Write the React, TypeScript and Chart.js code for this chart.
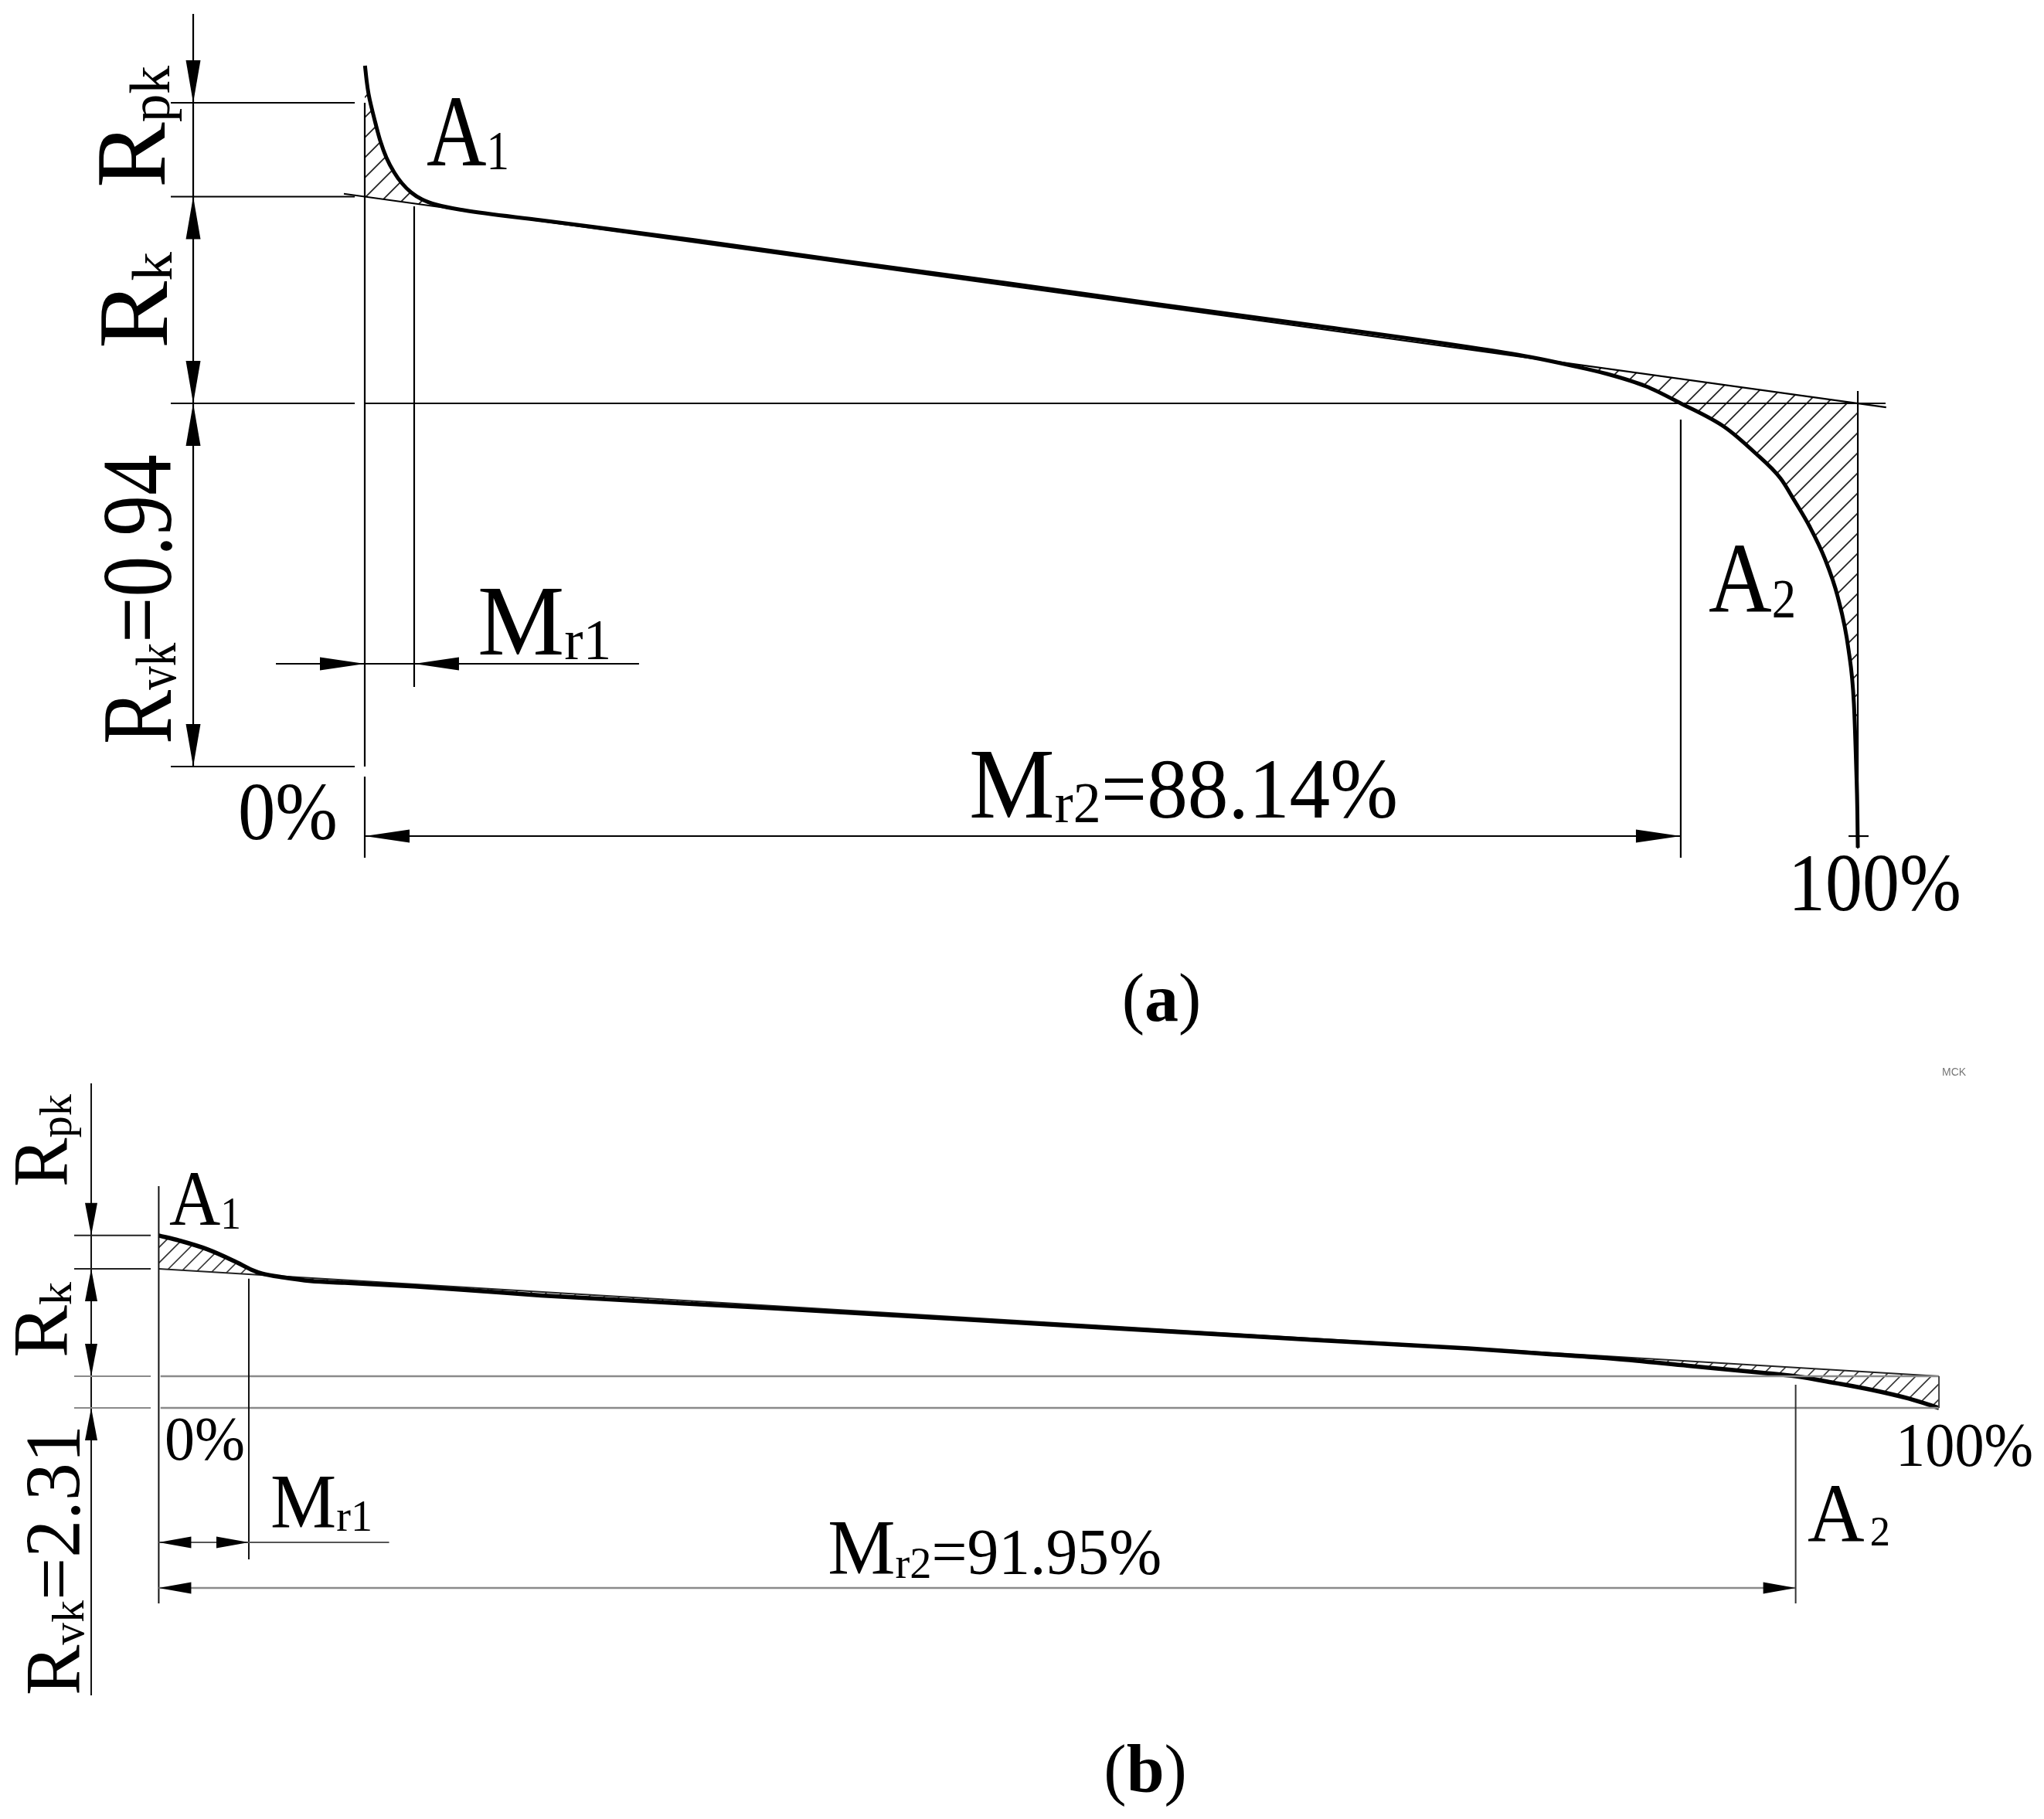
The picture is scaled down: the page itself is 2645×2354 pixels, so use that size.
import React, { useEffect, useRef } from "react";
import { Chart, registerables } from "chart.js";

Chart.register(...registerables);

// ===================== Panel (a) =====================
// Bearing-area (Abbott–Firestone) curve: material ratio Mr (%) vs height (µm), 0 = lower limit of Rk
const mrA = [0.016, 0.129, 0.259, 0.466, 0.725, 1.035, 1.449, 1.967, 2.484, 3.106, 3.83, 4.814, 6.625, 11.8, 22.15, 32.5, 42.86, 53.21, 63.56, 73.91, 78.05, 80.8, 83.23, 85.82, 88.14, 91.1, 93.06, 94.82, 95.76, 96.79, 97.77, 98.65, 99.38, 99.74, 99.9, 99.97, 100];
const hA = [0.874, 0.834, 0.8, 0.764, 0.724, 0.68, 0.636, 0.598, 0.57, 0.546, 0.528, 0.514, 0.5, 0.474, 0.422, 0.366, 0.312, 0.256, 0.202, 0.146, 0.12, 0.098, 0.076, 0.044, 0, -0.062, -0.126, -0.194, -0.252, -0.32, -0.4, -0.5, -0.638, -0.778, -0.952, -1.056, -1.15];
const secantA_mr = [-1.4, 101.9];
const secantA_h = [0.5425, -0.0102];
const RPK_TOP_A = 0.778;
const RK_TOP_A = 0.535;
const RVK_A = 0.94;
const MR1_A = 3.31;
const MR2_A = 88.14;

// ===================== Panel (b) =====================
const mrB = [0, 1.155, 2.718, 4.263, 5.235, 5.8, 6.972, 8.535, 10.445, 14.352, 18.215, 21.471, 34.494, 51.858, 64.881, 73.563, 77.687, 81.811, 85.935, 90.059, 91.95, 94.182, 96.245, 98.307, 100];
const hB = [10.265, 9.893, 9.262, 8.383, 7.752, 7.493, 7.211, 6.946, 6.817, 6.546, 6.197, 5.893, 4.958, 3.634, 2.648, 2.028, 1.645, 1.268, 0.761, 0.259, 0, -0.496, -0.997, -1.628, -2.31];
const secantB_mr = [0, 100];
const secantB_h = [7.83, 0];
const RPK_TOP_B = 10.265;
const RK_TOP_B = 7.83;
const RVK_B = 2.31;
const MR1_B = 5.06;
const MR2_B = 91.95;

// text values
const RVK_A_TEXT = "=0.94";
const MR2_A_TEXT = "=88.14%";
const RVK_B_TEXT = "=2.31";
const MR2_B_TEXT = "=91.95%";

const SERIF = '"Liberation Serif", "Times New Roman", serif';

const pts = (xs: number[], ys: number[]) => xs.map((x, i) => ({ x, y: ys[i] }));

type Run = { t: string; size: number; dy?: number; bold?: boolean };

function drawRuns(ctx: any, runs: Run[], x: number, y: number, opts: any = {}) {
  ctx.save();
  ctx.fillStyle = opts.color || "#000";
  ctx.textBaseline = "alphabetic";
  ctx.textAlign = "left";
  const fam = opts.family || SERIF;
  let natural = 0;
  const ws = runs.map((r) => {
    ctx.font = `${r.bold ? "bold " : ""}${r.size}px ${fam}`;
    const w = ctx.measureText(r.t).width;
    natural += w;
    return w;
  });
  const sx = opts.width ? opts.width / natural : 1;
  ctx.translate(x, y);
  if (opts.rotate) ctx.rotate(-Math.PI / 2);
  ctx.scale(sx, 1);
  let cx = opts.center ? -natural / 2 : 0;
  runs.forEach((r, i) => {
    ctx.font = `${r.bold ? "bold " : ""}${r.size}px ${fam}`;
    ctx.fillText(r.t, cx, r.dy || 0);
    cx += ws[i];
  });
  ctx.restore();
}

function line(ctx: any, x1: number, y1: number, x2: number, y2: number, w: number, c: string) {
  ctx.save();
  ctx.strokeStyle = c;
  ctx.lineWidth = w;
  ctx.beginPath();
  ctx.moveTo(x1, y1);
  ctx.lineTo(x2, y2);
  ctx.stroke();
  ctx.restore();
}

function arrow(ctx: any, tx: number, ty: number, ux: number, uy: number, L: number, w: number, c = "#000") {
  const bx = tx - ux * L;
  const by = ty - uy * L;
  const nx = -uy;
  const ny = ux;
  ctx.save();
  ctx.fillStyle = c;
  ctx.beginPath();
  ctx.moveTo(tx, ty);
  ctx.lineTo(bx + nx * w, by + ny * w);
  ctx.lineTo(bx - nx * w, by - ny * w);
  ctx.closePath();
  ctx.fill();
  ctx.restore();
}

function hatch(ctx: any, poly: number[][], spacing: number, w: number, c: string) {
  ctx.save();
  ctx.beginPath();
  poly.forEach(([x, y], i) => (i ? ctx.lineTo(x, y) : ctx.moveTo(x, y)));
  ctx.closePath();
  ctx.clip();
  const xs = poly.map((p) => p[0]);
  const ys = poly.map((p) => p[1]);
  const minX = Math.min(...xs), maxX = Math.max(...xs);
  const minY = Math.min(...ys), maxY = Math.max(...ys);
  ctx.strokeStyle = c;
  ctx.lineWidth = w;
  ctx.beginPath();
  const k0 = Math.floor((minX + minY) / spacing) * spacing;
  for (let k = k0; k <= maxX + maxY + spacing; k += spacing) {
    ctx.moveTo(k - maxY, maxY);
    ctx.lineTo(k - minY, minY);
  }
  ctx.stroke();
  ctx.restore();
}

const drawingPlugin = {
  id: "drawing",
  beforeDraw(chart: any) {
    const ctx = chart.ctx;
    ctx.save();
    ctx.fillStyle = "#fff";
    ctx.fillRect(0, 0, chart.width, chart.height);
    ctx.restore();
  },
  beforeDatasetsDraw(chart: any) {
    const ctx = chart.ctx;
    // ---- panel a hatches
    {
      const X = (v: number) => chart.scales.xa.getPixelForValue(v);
      const Y = (v: number) => chart.scales.ya.getPixelForValue(v);
      const sec = (m: number) => RK_TOP_A * (1 - m / 100);
      // A1
      const p1: number[][] = [[X(0), Y(hA[0])]];
      for (let i = 0; i < mrA.length && mrA[i] <= 6.625; i++) p1.push([X(mrA[i]), Y(hA[i])]);
      p1.push([X(6.625), Y(sec(6.625))]);
      p1.push([X(0), Y(RK_TOP_A)]);
      hatch(ctx, p1, 26, 1.8, "#222");
      // A2
      const p2: number[][] = [];
      const start = 80.8;
      p2.push([X(start), Y(sec(start))]);
      p2.push([X(100), Y(0)]);
      p2.push([X(100), Y(hA[hA.length - 1])]);
      for (let i = mrA.length - 1; i >= 0 && mrA[i] >= start; i--) p2.push([X(mrA[i]), Y(hA[i])]);
      hatch(ctx, p2, 26, 1.8, "#222");
    }
    // ---- panel b hatches
    {
      const X = (v: number) => chart.scales.xb.getPixelForValue(v);
      const Y = (v: number) => chart.scales.yb.getPixelForValue(v);
      const sec = (m: number) => RK_TOP_B * (1 - m / 100);
      const cross = 6.4;
      const p1: number[][] = [];
      for (let i = 0; i < mrB.length && mrB[i] <= 5.8; i++) p1.push([X(mrB[i]), Y(hB[i])]);
      p1.push([X(cross), Y(sec(cross))]);
      p1.push([X(0), Y(RK_TOP_B)]);
      hatch(ctx, p1, 20, 1.6, "#333");
      const p2: number[][] = [];
      p2.push([X(cross), Y(sec(cross))]);
      p2.push([X(100), Y(0)]);
      p2.push([X(100), Y(-RVK_B)]);
      for (let i = mrB.length - 1; i >= 0 && mrB[i] > cross; i--) p2.push([X(mrB[i]), Y(hB[i])]);
      hatch(ctx, p2, 20, 1.6, "#333");
    }
  },
  afterDatasetsDraw(chart: any) {
    const ctx = chart.ctx;
    // ================= panel a =================
    {
      const X = (v: number) => chart.scales.xa.getPixelForValue(v);
      const Y = (v: number) => chart.scales.ya.getPixelForValue(v);
      const K = "#000";
      const lw = 2.2;
      const dimX = X(-11.49);
      line(ctx, dimX, Y(1.008), dimX, Y(-RVK_A), lw, K);
      for (const h of [RPK_TOP_A, RK_TOP_A, 0, -RVK_A]) line(ctx, X(-12.99), Y(h), X(-0.67), Y(h), lw, K);
      const La = 55, Wa = 9.5;
      arrow(ctx, dimX, Y(RPK_TOP_A), 0, 1, La, Wa);
      arrow(ctx, dimX, Y(RK_TOP_A), 0, -1, La, Wa);
      arrow(ctx, dimX, Y(0), 0, 1, La, Wa);
      arrow(ctx, dimX, Y(0), 0, -1, La, Wa);
      arrow(ctx, dimX, Y(-RVK_A), 0, 1, La, Wa);
      // 0% line
      line(ctx, X(0), Y(RPK_TOP_A), X(0), Y(-RVK_A), lw, K);
      line(ctx, X(0), Y(-0.966), X(0), Y(-1.176), lw, K);
      // Rk lower limit
      line(ctx, X(0), Y(0), X(101.86), Y(0), lw, K);
      // Mr1
      line(ctx, X(MR1_A), Y(0.51), X(MR1_A), Y(-0.734), lw, K);
      const ym1 = Y(-0.674);
      line(ctx, X(-5.95), ym1, X(18.37), ym1, lw, K);
      arrow(ctx, X(0), ym1, 1, 0, 58, 8.5);
      arrow(ctx, X(MR1_A), ym1, -1, 0, 58, 8.5);
      // Mr2
      const ym2 = Y(-1.12);
      line(ctx, X(0), ym2, X(MR2_A), ym2, lw, K);
      arrow(ctx, X(0), ym2, -1, 0, 58, 8.5);
      arrow(ctx, X(MR2_A), ym2, 1, 0, 58, 8.5);
      line(ctx, X(MR2_A), Y(-0.042), X(MR2_A), Y(-1.176), lw, K);
      // 100%
      line(ctx, X(100), Y(0.032), X(100), Y(-1.152), lw, K);
      line(ctx, X(99.38), ym2, X(100.72), ym2, lw, K);

      // labels
      drawRuns(ctx, [{ t: "A", size: 131 }, { t: "1", size: 72, dy: 5 }], X(4.14), Y(0.616), { width: 107 });
      drawRuns(ctx, [{ t: "R", size: 130 }, { t: "pk", size: 75, dy: 6 }], X(-13.41), Y(0.558), { width: 158, rotate: true });
      drawRuns(ctx, [{ t: "R", size: 130 }, { t: "k", size: 75, dy: 6 }], X(-13.25), Y(0.142), { width: 125, rotate: true });
      drawRuns(ctx, [{ t: "R", size: 130 }, { t: "vk", size: 75, dy: 6 }, { t: RVK_A_TEXT, size: 130 }], X(-12.99), Y(-0.882), { width: 375, rotate: true });
      drawRuns(ctx, [{ t: "M", size: 130 }, { t: "r1", size: 75, dy: 6 }], X(7.56), Y(-0.65), { width: 173 });
      drawRuns(ctx, [{ t: "0%", size: 106 }], X(-8.49), Y(-1.128), { width: 129 });
      drawRuns(ctx, [{ t: "M", size: 130 }, { t: "r2", size: 75, dy: 6 }, { t: MR2_A_TEXT, size: 110 }], X(40.48), Y(-1.072), { width: 555 });
      drawRuns(ctx, [{ t: "100%", size: 105 }], X(95.34), Y(-1.312), { width: 224 });
      drawRuns(ctx, [{ t: "A", size: 130 }, { t: "2", size: 72, dy: 7 }], X(90.01), Y(-0.54), { width: 113 });
      drawRuns(ctx, [{ t: "(", size: 88 }, { t: "a", size: 88, bold: true }, { t: ")", size: 88 }], X(53.36), Y(-1.598), { center: true });
    }
    // ================= panel b =================
    {
      const X = (v: number) => chart.scales.xb.getPixelForValue(v);
      const Y = (v: number) => chart.scales.yb.getPixelForValue(v);
      const K = "#111";
      const G = "#8a8a8a";
      const lw = 2;
      const dimX = X(-3.794);
      line(ctx, dimX, Y(21.35), dimX, Y(-23.27), lw, K);
      for (const h of [RPK_TOP_B, RK_TOP_B]) line(ctx, X(-4.749), Y(h), X(-0.451), Y(h), lw, "#222");
      for (const h of [0, -RVK_B]) line(ctx, X(-4.749), Y(h), X(-0.451), Y(h), lw, G);
      const Lb = 42, Wb = 8;
      arrow(ctx, dimX, Y(RPK_TOP_B), 0, 1, Lb, Wb);
      arrow(ctx, dimX, Y(RK_TOP_B), 0, -1, Lb, Wb);
      arrow(ctx, dimX, Y(0), 0, 1, Lb, Wb);
      arrow(ctx, dimX, Y(-RVK_B), 0, -1, Lb, Wb);
      // 0% line
      line(ctx, X(0), Y(13.86), X(0), Y(-16.56), lw, K);
      // grey reference lines
      line(ctx, X(0.1), Y(0), X(100), Y(0), 2.5, G);
      line(ctx, X(0.1), Y(-RVK_B), X(100), Y(-RVK_B), 2.5, G);
      line(ctx, X(100), Y(0), X(100), Y(-RVK_B), 2, "#444");
      // Mr1
      line(ctx, X(MR1_B), Y(7.12), X(MR1_B), Y(-13.35), lw, K);
      const ym1 = Y(-12.11);
      line(ctx, X(0), ym1, X(12.94), ym1, lw, "#555");
      arrow(ctx, X(0), ym1, -1, 0, Lb, 7.5);
      arrow(ctx, X(MR1_B), ym1, 1, 0, Lb, 7.5);
      // Mr2
      const ym2 = Y(-15.44);
      line(ctx, X(0), ym2, X(MR2_B), ym2, 2.5, G);
      arrow(ctx, X(0), ym2, -1, 0, Lb, 7.5);
      arrow(ctx, X(MR2_B), ym2, 1, 0, Lb, 7.5);
      line(ctx, X(MR2_B), Y(-0.62), X(MR2_B), Y(-16.56), lw, "#333");

      drawRuns(ctx, [{ t: "A", size: 101 }, { t: "1", size: 59, dy: 5 }], X(0.59), Y(11.04), { width: 93 });
      drawRuns(ctx, [{ t: "R", size: 101 }, { t: "pk", size: 60, dy: 5 }], X(-5.14), Y(13.8), { width: 120, rotate: true });
      drawRuns(ctx, [{ t: "R", size: 101 }, { t: "k", size: 60, dy: 5 }], X(-5.14), Y(1.352), { width: 98, rotate: true });
      drawRuns(ctx, [{ t: "R", size: 102 }, { t: "vk", size: 60, dy: 5 }, { t: RVK_B_TEXT, size: 102 }], X(-4.445), Y(-23.27), { width: 350, rotate: true });
      drawRuns(ctx, [{ t: "0%", size: 80 }], X(0.33), Y(-6.08), { width: 104 });
      drawRuns(ctx, [{ t: "M", size: 99 }, { t: "r1", size: 58, dy: 5 }], X(6.28), Y(-10.99), { width: 132 });
      drawRuns(ctx, [{ t: "M", size: 101 }, { t: "r2", size: 58, dy: 5 }, { t: MR2_B_TEXT, size: 84 }], X(37.58), Y(-14.42), { width: 432 });
      drawRuns(ctx, [{ t: "100%", size: 80 }], X(97.57), Y(-6.54), { width: 178 });
      drawRuns(ctx, [{ t: "A", size: 107 }, { t: " ", size: 30 }, { t: "2", size: 55, dy: 5 }], X(92.62), Y(-12.06), { width: 107 });
      drawRuns(ctx, [{ t: "(", size: 88 }, { t: "b", size: 88, bold: true }, { t: ")", size: 88 }], X(55.42), Y(-30.28), { center: true });
      drawRuns(ctx, [{ t: "MCK", size: 14 }], X(100.17), Y(21.92), { color: "#777", family: '"Liberation Sans", sans-serif' });
    }
  },
};

export default function App() {
  const ref = useRef<HTMLCanvasElement | null>(null);
  useEffect(() => {
    if (!ref.current) return;
    const chart = new Chart(ref.current, {
      type: "scatter",
      data: {
        datasets: [
          {
            label: "Curve (a)",
            data: pts(mrA, hA),
            xAxisID: "xa",
            yAxisID: "ya",
            showLine: true,
            borderColor: "#000",
            borderWidth: 5,
            pointRadius: 0,
            cubicInterpolationMode: "monotone",
            fill: false,
          },
          {
            label: "Secant (a)",
            data: pts(secantA_mr, secantA_h),
            xAxisID: "xa",
            yAxisID: "ya",
            showLine: true,
            borderColor: "#000",
            borderWidth: 2.2,
            pointRadius: 0,
          },
          {
            label: "Curve (b)",
            data: pts(mrB, hB),
            xAxisID: "xb",
            yAxisID: "yb",
            showLine: true,
            borderColor: "#000",
            borderWidth: 5.5,
            pointRadius: 0,
            cubicInterpolationMode: "monotone",
            fill: false,
          },
          {
            label: "Secant (b)",
            data: pts(secantB_mr, secantB_h),
            xAxisID: "xb",
            yAxisID: "yb",
            showLine: true,
            borderColor: "#222",
            borderWidth: 2,
            pointRadius: 0,
          },
        ],
      },
      options: {
        responsive: false,
        animation: false,
        devicePixelRatio: 1,
        events: [],
        layout: { padding: 0 },
        plugins: { legend: { display: false }, tooltip: { enabled: false } },
        scales: {
          xa: { type: "linear", display: false, min: -24.43, max: 112.47 },
          ya: { type: "linear", display: false, min: -3.664, max: 1.044 },
          xb: { type: "linear", display: false, min: -8.917, max: 105.9 },
          yb: { type: "linear", display: false, min: -32.28, max: 100.34 },
        },
      },
      plugins: [drawingPlugin],
    } as any);
    return () => chart.destroy();
  }, []);
  return (
    <div style={{ position: "absolute", left: 0, top: 0, width: 2645, height: 2354, background: "#fff" }}>
      <canvas ref={ref} width={2645} height={2354} style={{ width: 2645, height: 2354, display: "block" }} />
    </div>
  );
}
